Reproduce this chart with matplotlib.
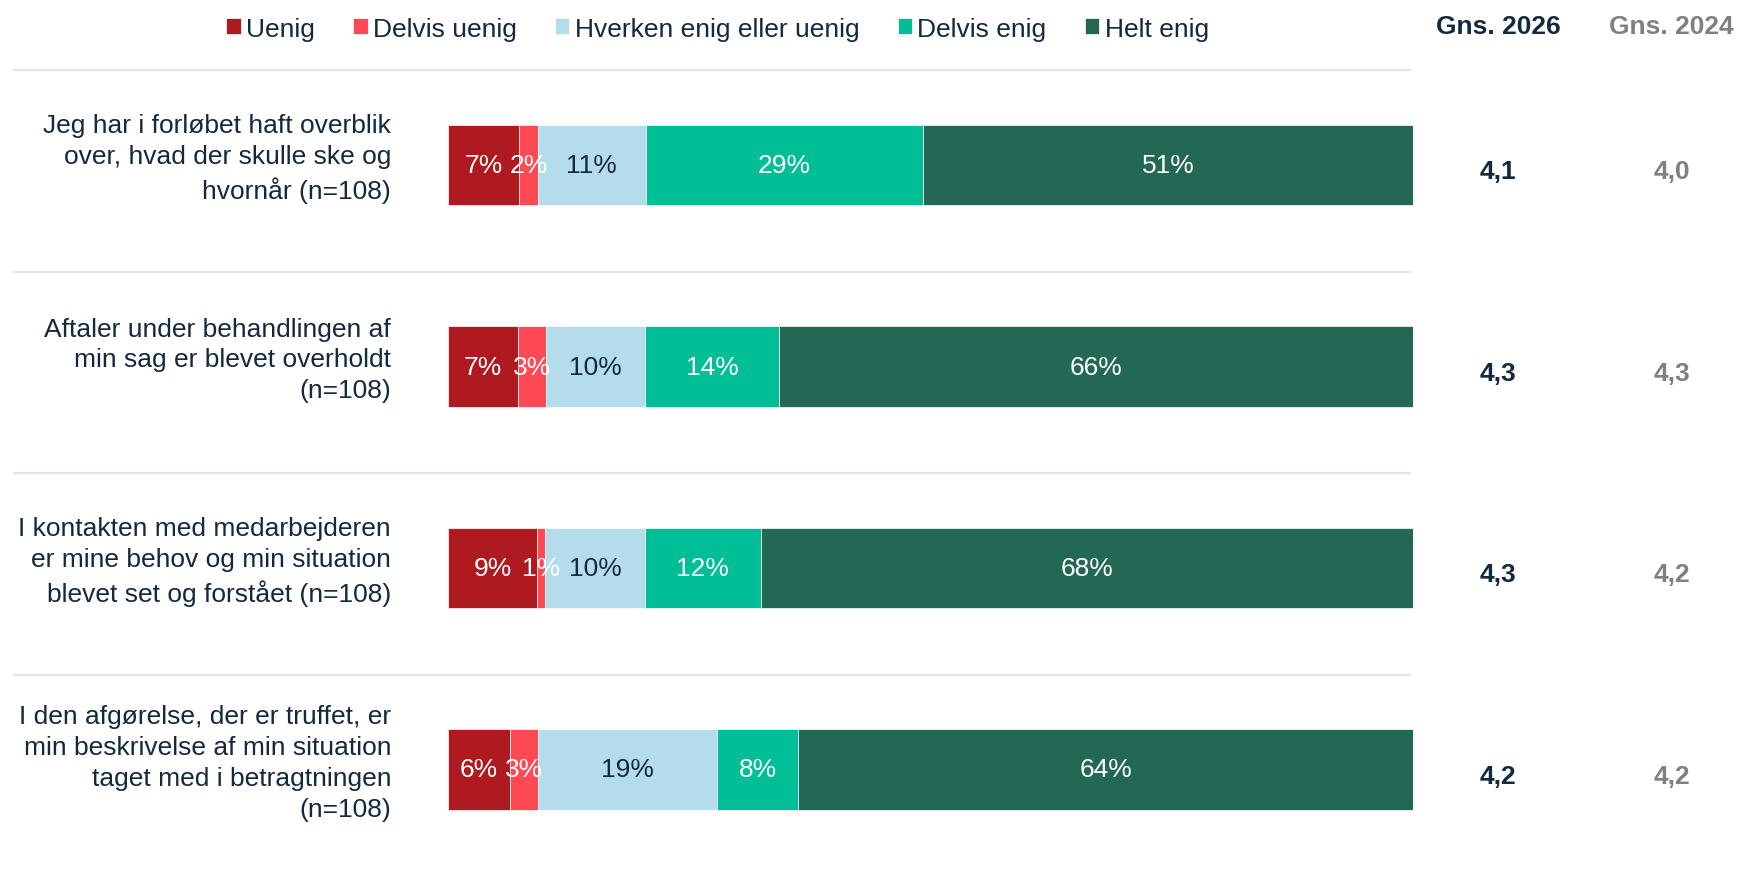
import numpy as np
import matplotlib.pyplot as plt

plt.rcParams['font.family'] = ['Liberation Sans', 'DejaVu Sans']

# data
questions = [
    "Jeg har i forløbet haft overblik\nover, hvad der skulle ske og\nhvornår (n=108)",
    "Aftaler under behandlingen af\nmin sag er blevet overholdt\n(n=108)",
    "I kontakten med medarbejderen\ner mine behov og min situation\nblevet set og forstået (n=108)",
    "I den afgørelse, der er truffet, er\nmin beskrivelse af min situation\ntaget med i betragtningen\n(n=108)",
]
categories = ["Uenig", "Delvis uenig", "Hverken enig eller uenig", "Delvis enig", "Helt enig"]
uenig = [7.4, 7.3, 9.2, 6.4]
delvis_uenig = [1.9, 2.9, 0.9, 2.9]
hverken = [11.2, 10.2, 10.3, 18.6]
delvis_enig = [28.7, 13.9, 12.0, 8.4]
helt_enig = [50.8, 65.7, 67.6, 63.7]
gns_2026 = ["4,1", "4,3", "4,3", "4,2"]
gns_2024 = ["4,0", "4,3", "4,2", "4,2"]

series = [uenig, delvis_uenig, hverken, delvis_enig, helt_enig]
colors = ["#AE1A1F", "#FF4A55", "#B5DCEB", "#00BF96", "#236855"]
label_colors = ["white", "white", "#13293D", "white", "white"]
navy = "#13293D"
grey = "#808080"

fig = plt.figure(figsize=(17.37, 8.7), dpi=100)
ax = fig.add_axes([448 / 1737, 0, 965 / 1737, 1])

rows = np.arange(len(questions))
left = np.zeros(len(questions))
for vals, col, lc, name in zip(series, colors, label_colors, categories):
    vals = np.array(vals)
    ax.barh(rows, vals, left=left, height=0.40, color=col, label=name,
            edgecolor="white", linewidth=0.5)
    for r, l, v in zip(rows, left, vals):
        ax.text(l + v / 2, r, f"{v:.0f}%", ha="center", va="center",
                fontsize=19, color=lc)
    left += vals

ax.set_xlim(0, 100)
ax.set_ylim(3.494, -0.824)
ax.axis("off")

# separator lines
ax.hlines(rows - 0.47, -45.1, 99.8, color="#E8E4DA", linewidth=1.5, clip_on=False)

# question labels
for r, q in zip(rows, questions):
    ax.text(-5.9, r - 0.035, q, ha="right", va="center", fontsize=19,
            color=navy, linespacing=1.36)

# averages
ax.text(108.8, -0.69, "Gns. 2026", ha="center", va="center", fontsize=19,
        fontweight="bold", color=navy, clip_on=False)
ax.text(126.8, -0.69, "Gns. 2024", ha="center", va="center", fontsize=19,
        fontweight="bold", color=grey, clip_on=False)
for r, a, b in zip(rows, gns_2026, gns_2024):
    ax.text(108.8, r + 0.03, a, ha="center", va="center", fontsize=19,
            fontweight="bold", color=navy, clip_on=False)
    ax.text(126.8, r + 0.03, b, ha="center", va="center", fontsize=19,
            fontweight="bold", color=grey, clip_on=False)

leg = fig.legend(loc="center", bbox_to_anchor=(0.413, 0.966), ncol=5,
                 frameon=False, fontsize=19, handlelength=0.55, handleheight=0.55,
                 handletextpad=0.2, columnspacing=1.45, borderaxespad=0)
for t in leg.get_texts():
    t.set_color(navy)

plt.savefig("out.png", dpi=100)
